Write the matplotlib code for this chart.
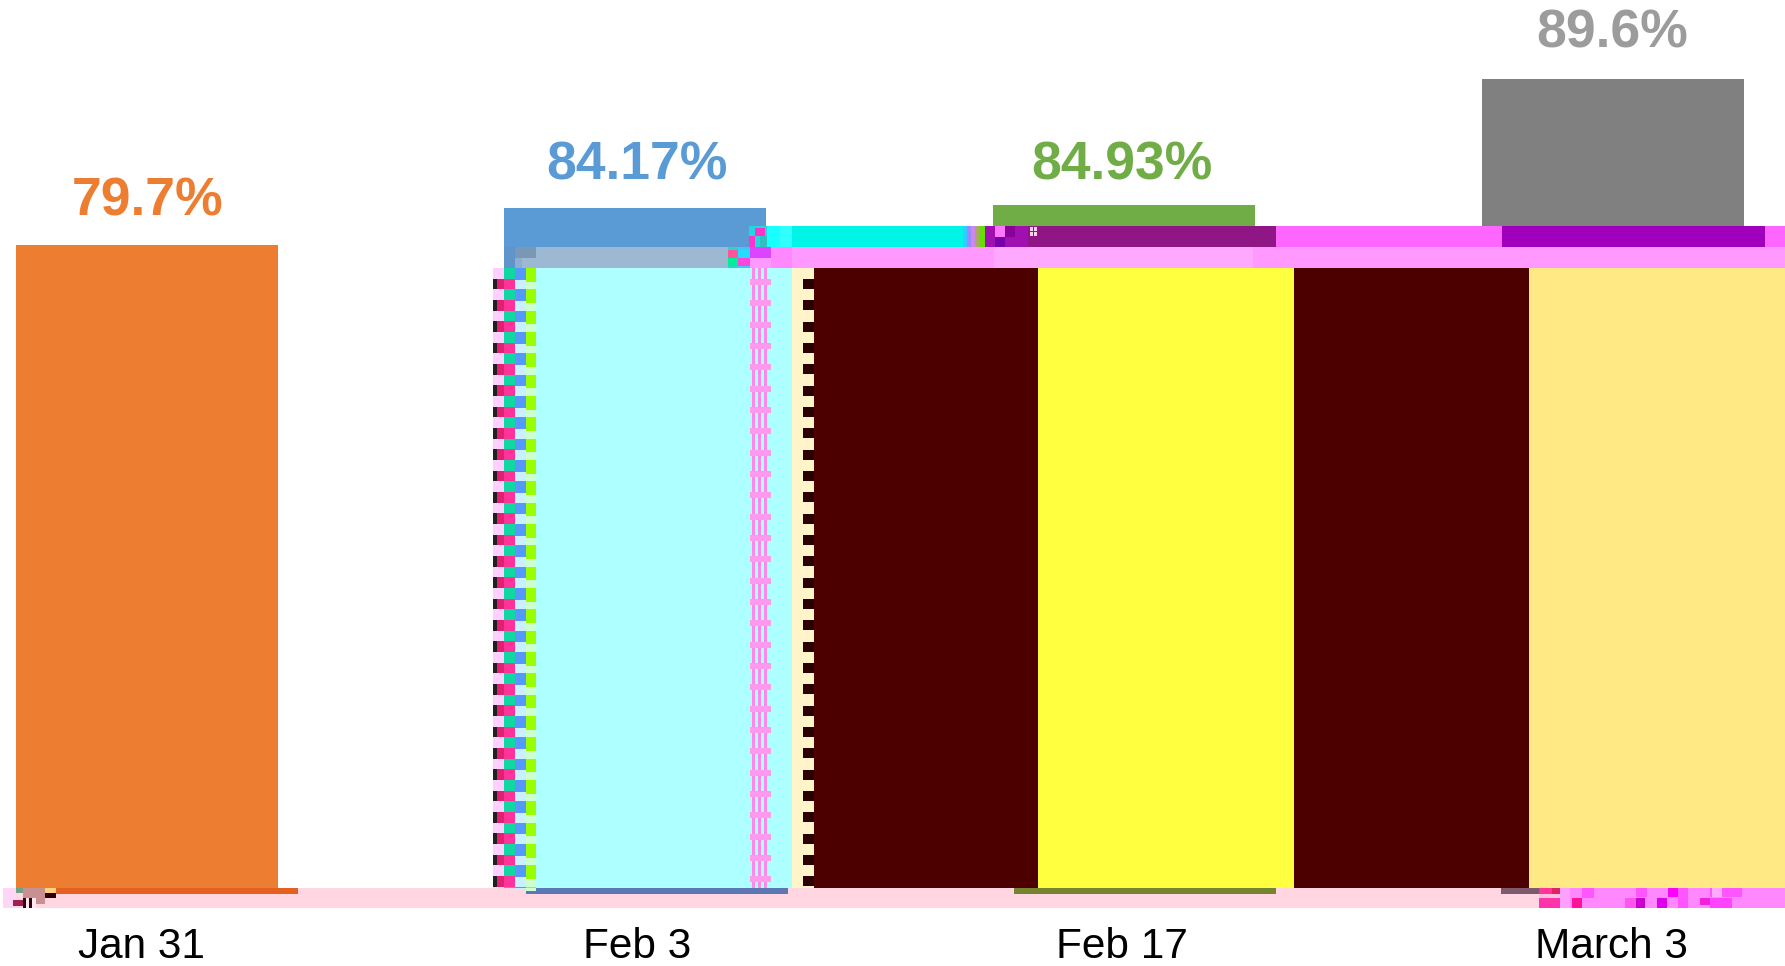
"""
Four-date percentage bars with the damaged colour blocks of the source picture.
"""

import matplotlib
matplotlib.use('Agg')
import matplotlib.pyplot as plt
import numpy as np
from matplotlib.patches import Rectangle

# Chart data
# ------------------------------------------------------------------------------

dates = ['Jan 31', 'Feb 3', 'Feb 17', 'March 3']
value_labels = ['79.7%', '84.17%', '84.93%', '89.6%']
bar_heights = [643, 680, 683, 809]

bar_colors = ['#ED7D31', '#5B9BD5', '#70AD47', '#808080']
label_colors = ['#ED7D31', '#5B9BD5', '#70AD47', '#9C9C9C']

# Pixel layout of the picture
# ------------------------------------------------------------------------------

W, H = 1785, 966
BASE_Y = 888
FIRST_X = 146.5
STEP_X = 488.7
BAR_W = 262

label_x = [148, 637, 1122, 1612]
label_base = [216, 179, 179, 47]
date_x = [141, 637, 1122, 1611]
date_base = 958

# Damaged areas: x0, x1, y0, y1, colour
# ------------------------------------------------------------------------------

blocks = [
    # big columns
    (536, 750, 268, 888, '#AEFFFF'),
    (750, 792, 268, 888, '#AEFFFF'),
    (792, 814, 268, 888, '#FFF5C8'),
    (814, 1038, 268, 888, '#4D0000'),
    (1038, 1294, 268, 888, '#FFFF40'),
    (1294, 1529, 268, 888, '#4D0000'),
    (1529, 1785, 268, 888, '#FFE985'),
    # band under the bar tops
    (792, 963, 226, 247, '#00F5E6'),
    (767, 780, 226, 247, '#19FFFF'),
    (780, 792, 226, 247, '#30FFFF'),
    (963, 967, 226, 247, '#33CCFF'),
    (967, 971, 226, 247, '#9988FF'),
    (971, 975, 226, 247, '#CC88EE'),
    (975, 980, 226, 247, '#AAAA66'),
    (980, 985, 226, 247, '#66DD00'),
    (985, 1028, 226, 247, '#A010B0'),
    (995, 1005, 226, 237, '#FF77FF'),
    (995, 1005, 237, 247, '#7700AA'),
    (1005, 1015, 226, 237, '#880099'),
    (1028, 1276, 226, 247, '#901585'),
    (1030, 1033, 227, 231, '#FFD0F0'),
    (1034, 1037, 227, 231, '#FFD0F0'),
    (1030, 1033, 232, 236, '#FFD0F0'),
    (1034, 1037, 232, 236, '#FFD0F0'),
    (1276, 1502, 226, 247, '#FF66FF'),
    (1502, 1765, 226, 247, '#A000BC'),
    (1765, 1785, 226, 247, '#FF66FF'),
    (749, 767, 226, 247, '#20D8E0'),
    (755, 765, 228, 236, '#FF33CC'),
    (749, 755, 236, 247, '#FF33CC'),
    (760, 767, 236, 247, '#30C0C0'),
    # paler band
    (505, 728, 247, 268, '#9DB8D3'),
    (504, 515, 247, 268, '#5F95CC'),
    (515, 536, 247, 258, '#7A97B5'),
    (515, 522, 258, 268, '#8FADCC'),
    (728, 738, 247, 268, '#30D0D0'),
    (728, 738, 250, 258, '#FF5599'),
    (728, 738, 258, 266, '#00EE99'),
    (738, 750, 247, 268, '#40C8F0'),
    (738, 750, 250, 258, '#22DDFF'),
    (738, 750, 258, 266, '#FF44DD'),
    (750, 771, 247, 258, '#DD44FF'),
    (750, 771, 258, 268, '#FF99FF'),
    (771, 792, 247, 268, '#FF88FF'),
    (792, 1785, 247, 268, '#FF99FF'),
    (994, 1253, 247, 268, '#FFA8FF'),
    # band under the baseline
    (3, 1785, 888, 908, '#FFD6E2'),
    (3, 16, 888, 908, '#FFD6F5'),
    (56, 298, 888, 894, '#E5601E'),
    (526, 788, 888, 894, '#5C78B4'),
    (1014, 1276, 888, 894, '#76842F'),
    (1501, 1539, 888, 894, '#7D5A6C'),
    (16, 23, 888, 893, '#6FA08A'),
    (23, 45, 888, 898, '#C89090'),
    (45, 56, 888, 893, '#FFD080'),
    (45, 56, 893, 898, '#300000'),
    (13, 23, 900, 906, '#A02050'),
    (23, 26, 898, 908, '#300010'),
    (26, 29, 898, 908, '#FFE8F0'),
    (29, 32, 898, 908, '#300010'),
    (32, 36, 898, 908, '#FFE8F0'),
    (36, 45, 898, 904, '#C89090'),
    # lower right corner
    (1539, 1785, 888, 908, '#FF88FF'),
    (1539, 1552, 888, 894, '#FF3399'),
    (1552, 1560, 888, 894, '#DD2266'),
    (1539, 1560, 894, 898, '#FFC0E0'),
    (1539, 1560, 898, 908, '#FF33AA'),
    (1560, 1570, 888, 908, '#FFA0FF'),
    (1572, 1582, 898, 908, '#FF1199'),
    (1582, 1594, 888, 898, '#FF55FF'),
    (1625, 1636, 898, 908, '#FF55EE'),
    (1636, 1645, 898, 908, '#CC00CC'),
    (1636, 1647, 888, 897, '#FF55FF'),
    (1657, 1667, 898, 908, '#DD00EE'),
    (1668, 1678, 888, 897, '#FF00FF'),
    (1678, 1688, 888, 908, '#FF55FF'),
    (1700, 1710, 898, 905, '#EE22DD'),
    (1710, 1732, 898, 908, '#FF44FF'),
    (1710, 1742, 888, 897, '#FF55FF'),
    (1712, 1722, 888, 897, '#FFAAFF'),
]

# repeating pieces of the damaged columns
PERIOD = 21.33
row_tops = np.arange(268, BASE_Y, PERIOD)

for top in row_tops:
    bottom = min(top + PERIOD, BASE_Y)
    mid = min(top + PERIOD / 2, BASE_Y)
    low = min(top + 11, BASE_Y)
    blocks += [
        # left hand strip
        (493, 504, top, mid, '#FFD0FF'),
        (493, 504, mid, bottom, '#202020'),
        (497, 504, mid, bottom, '#E02070'),
        (504, 515, top, mid, '#10D8A0'),
        (504, 515, mid, bottom, '#FF3399'),
        (515, 526, top, mid + 1, '#5599FF'),
        (515, 526, mid + 1, bottom, '#C8F0FF'),
        (526, 536, top, mid + 3, '#99FF00'),
        (526, 536, mid + 3, bottom, '#CCFFCC'),
        # right hand lattice
        (752, 755, top, bottom, '#FF88EE'),
        (758, 761, top, bottom, '#FF88EE'),
        (764, 767, top, bottom, '#FF88EE'),
        (750, 771, low, min(low + 6, BASE_Y), '#FF99EE'),
        # notches in the cream column
        (803, 814, low, min(low + 10, BASE_Y), '#2A0000'),
    ]

# Plot
# ------------------------------------------------------------------------------

fig = plt.figure(figsize=(W / 100, H / 100), dpi=100, facecolor='white')

ax = fig.add_axes([0, 0, 1, 1])
ax.set_xlim(-FIRST_X / STEP_X, (W - FIRST_X) / STEP_X)
ax.set_ylim(BASE_Y - H, BASE_Y)
ax.axis('off')
ax.bar(range(len(dates)), bar_heights, width=BAR_W / STEP_X, color=bar_colors, linewidth=0)

top = fig.add_axes([0, 0, 1, 1], facecolor='none')
top.set_xlim(0, W)
top.set_ylim(H, 0)
top.axis('off')

for x0, x1, y0, y1, c in blocks:
    top.add_patch(Rectangle((x0, y0), x1 - x0, y1 - y0, facecolor=c, linewidth=0,
                            antialiased=False))

for x, y, s, c in zip(label_x, label_base, value_labels, label_colors):
    top.text(x, y, s, color=c, fontsize=38.5, fontweight='bold', family='Liberation Sans',
             ha='center', va='baseline')

for x, s in zip(date_x, dates):
    top.text(x, date_base, s, color='black', fontsize=30.5, family='Liberation Sans',
             ha='center', va='baseline')

fig.savefig('out.png', dpi=100)
